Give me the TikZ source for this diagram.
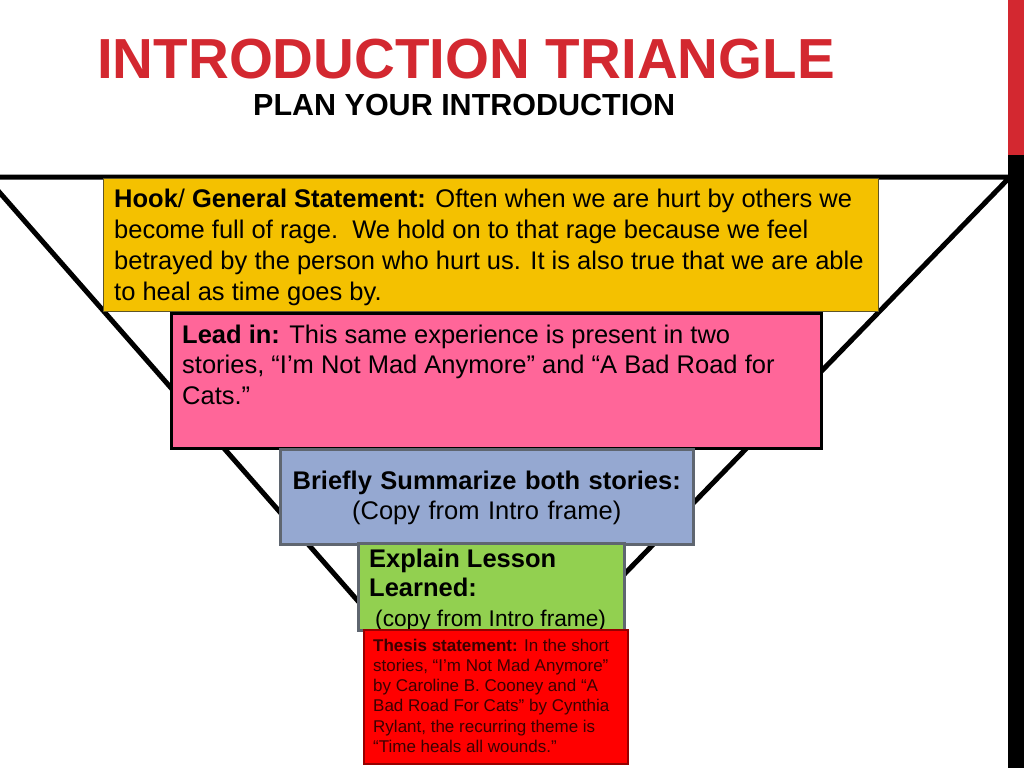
\documentclass[tikz,border=0pt]{standalone}
\usepackage{fontspec}
\setmainfont{Liberation Sans}
\definecolor{titlered}{RGB}{211,40,48}
\definecolor{hookyellow}{RGB}{244,193,0}
\definecolor{hookline}{RGB}{95,85,40}
\definecolor{leadpink}{RGB}{255,102,153}
\definecolor{sumblue}{RGB}{149,168,209}
\definecolor{lessongreen}{RGB}{146,208,80}
\definecolor{boxgray}{RGB}{95,102,112}
\definecolor{thesisred}{RGB}{255,0,0}
\definecolor{thesisline}{RGB}{150,0,0}
\definecolor{thesistext}{RGB}{60,0,0}

\begin{document}
\begin{tikzpicture}[x=1pt, y=-1pt,
		box/.style = {rectangle, anchor=north west, inner sep=0pt},
		boxtext/.style = {anchor=base west, inner sep=0pt, align=left,
			font=\fontsize{25.5}{30.5}\selectfont}]
			\useasboundingbox (0,0) rectangle (1024,768);
			
			% triangle behind the boxes
			\draw [line width=5pt, line join=miter] (-14,177) -- (1010,177) -- (472,731) -- cycle;
			
			\fill [titlered] (1008,0) rectangle (1024,155);
			\fill [black] (1008,155) rectangle (1024,768);
			
			\node [anchor=base west, inner sep=0pt, text=titlered,
				font=\bfseries\fontsize{56.5}{60}\selectfont] (title) at (97,78) {INTRODUCTION TRIANGLE};
			\node [anchor=base west, inner sep=0pt,
				font=\bfseries\fontsize{30.5}{34}\selectfont] (subtitle) at (253,115) {PLAN YOUR INTRODUCTION};
			
			% text nodes sit on the baseline of their last line
			\node [box, fill=hookyellow, draw=hookline, line width=1pt,
				minimum width=775pt, minimum height=133pt] (hook) at (103,178) {};
			\node [boxtext, font=\fontsize{25.5}{31}\selectfont] (hook text)
				at ([shift={(11,122)}]hook.north west)
				{\textbf{Hook}/ \textbf{General Statement:} Often when we are hurt by others we\\
				become full of rage.\ \ We hold on to that rage because we feel\\
				betrayed by the person who hurt us. It is also true that we are able\\
				to heal as time goes by.};
			
			\node [box, fill=leadpink, draw=black, line width=2.5pt,
				minimum width=650pt, minimum height=135pt] (lead) at (170,312) {};
			\node [boxtext] (lead text) at ([shift={(12,92)}]lead.north west)
				{\textbf{Lead in:} This same experience is present in two\\
				stories, “I’m Not Mad Anymore” and “A Bad Road for\\
				Cats.”};
			
			\node [box, fill=sumblue, draw=boxgray, line width=2.5pt,
				minimum width=413pt, minimum height=95pt] (summary) at (279,448) {};
			\node [boxtext, anchor=base, align=center, text width=405pt] (summary text)
				at ([shift={(0,41)}]summary.north)
				{\textbf{Briefly Summarize both stories:}\\
				(Copy from Intro frame)};
			
			\node [box, fill=lessongreen, draw=boxgray, line width=2.5pt,
				minimum width=266pt, minimum height=87pt] (lesson) at (357,542) {};
			\node [boxtext, font=\fontsize{25.5}{29.5}\selectfont] (lesson text)
				at ([shift={(12,84)}]lesson.north west)
				{\textbf{Explain Lesson}\\
				\textbf{Learned:}\\
				{\fontsize{22.7}{29.5}\selectfont\hspace*{6pt}(copy from Intro frame)}};
			
			\node [box, fill=thesisred, draw=thesisline, line width=1.5pt,
				minimum width=264pt, minimum height=134pt] (thesis) at (363,629) {};
			\node [boxtext, text=thesistext, font=\fontsize{17}{20.3}\selectfont] (thesis text)
				at ([shift={(10,123.5)}]thesis.north west)
				{\textbf{Thesis statement:} In the short\\
				stories, “I’m Not Mad Anymore”\\
				by Caroline B. Cooney and “A\\
				Bad Road For Cats” by Cynthia\\
				Rylant, the recurring theme is\\
				“Time heals all wounds.”};
		\end{tikzpicture}
\end{document}
